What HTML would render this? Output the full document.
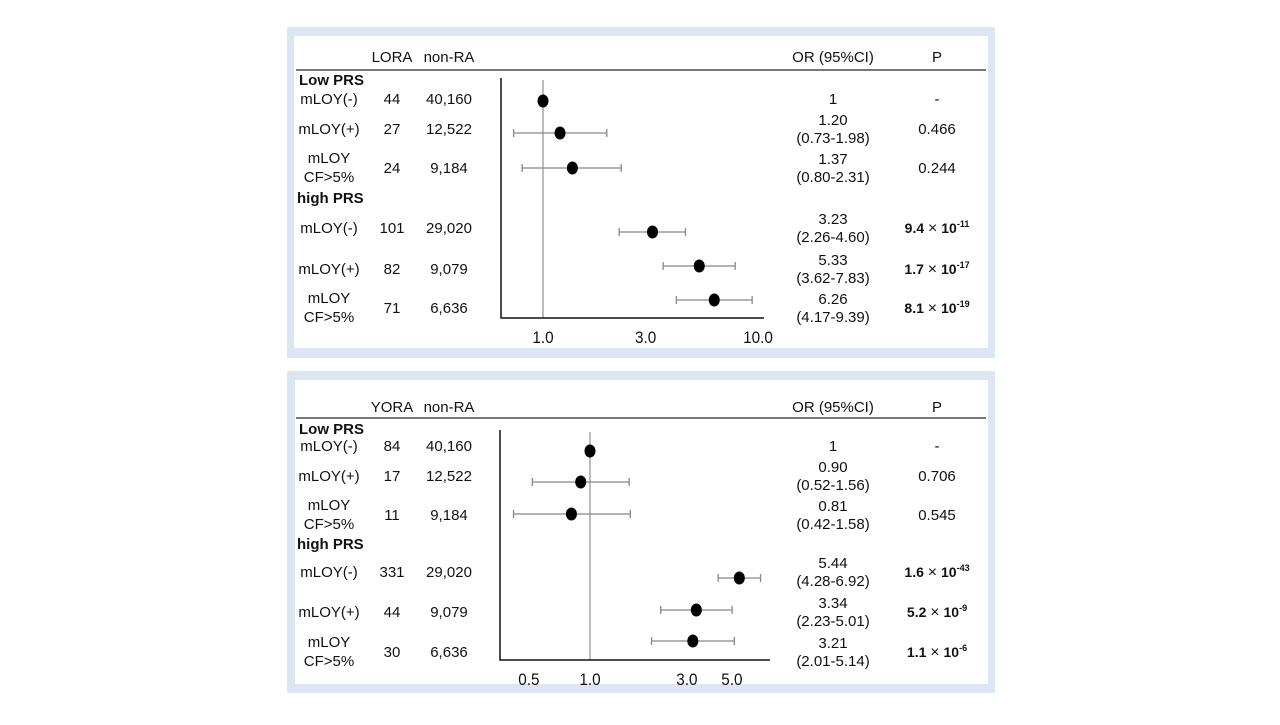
<!DOCTYPE html>
<html><head><meta charset="utf-8"><style>
body{margin:0;width:1280px;height:720px;background:#fff;font-family:"Liberation Sans",sans-serif;overflow:hidden}
svg text{font-family:"Liberation Sans",sans-serif;fill:#111}
</style></head><body>
<svg width="1280" height="720">
<rect x="287" y="27" width="708" height="331" fill="#dce6f2"/>
<rect x="294" y="36" width="694" height="312" fill="#fff"/>
<rect x="287" y="371" width="708" height="322" fill="#dce6f2"/>
<rect x="295" y="380" width="693" height="304" fill="#fff"/>
<g id="c1"></g>
<g id="c2"></g>
</svg>
<script>
const labels1=["mLOY(-)","mLOY(+)","mLOY|CF>5%","mLOY(-)","mLOY(+)","mLOY|CF>5%"];
const cases1=["44","27","24","101","82","71"];
const ctrl1=["40,160","12,522","9,184","29,020","9,079","6,636"];
const or1=[1,1.20,1.37,3.23,5.33,6.26];
const lo1=[null,0.73,0.80,2.26,3.62,4.17];
const hi1=[null,1.98,2.31,4.60,7.83,9.39];
const pm1=["-","0.466","0.244","9.4","1.7","8.1"];
const pe1=[null,null,null,"-11","-17","-19"];
const ticks1=[1,3,10];const tickLab1=["1.0","3.0","10.0"];

const cases2=["84","17","11","331","44","30"];
const or2=[1,0.90,0.81,5.44,3.34,3.21];
const lo2=[null,0.52,0.42,4.28,2.23,2.01];
const hi2=[null,1.56,1.58,6.92,5.01,5.14];
const pm2=["-","0.706","0.545","1.6","5.2","1.1"];
const pe2=[null,null,null,"-43","-9","-6"];
const ticks2=[0.5,1,3,5];const tickLab2=["0.5","1.0","3.0","5.0"];

const NS="http://www.w3.org/2000/svg";
const FS=15;
function mk(g,t,a,txt){const e=document.createElementNS(NS,t);for(const k in a)e.setAttribute(k,a[k]);if(txt!=null)e.textContent=txt;g.appendChild(e);return e;}
function draw(id,cfg){
 const g=document.getElementById(id);
 const X=v=>cfg.x1+Math.log10(v)*cfg.k;
 let e;
 e=mk(g,"text",{x:392,y:cfg.hy,"text-anchor":"middle","font-size":FS},cfg.caseHead);
 
 e=mk(g,"text",{x:449,y:cfg.hy,"text-anchor":"middle","font-size":FS},"non-RA");
 
 e=mk(g,"text",{x:833,y:cfg.hy,"text-anchor":"middle","font-size":FS},"OR (95%CI)");
 
 e=mk(g,"text",{x:937,y:cfg.hy,"text-anchor":"middle","font-size":FS},"P");
 
 e=mk(g,"line",{x1:296,x2:986,y1:cfg.hl,y2:cfg.hl,stroke:"#777","stroke-width":2});
 
 e=mk(g,"text",{x:299,y:cfg.g1,"font-size":FS,"font-weight":"bold"},"Low PRS");
 
 e=mk(g,"text",{x:297,y:cfg.g2,"font-size":FS,"font-weight":"bold"},"high PRS");
 
 e=mk(g,"line",{x1:X(1),x2:X(1),y1:cfg.ay0,y2:cfg.ay1,stroke:"#999","stroke-width":1.3});
 
 e=mk(g,"path",{d:`M${cfg.ax0} ${cfg.ay0-2}V${cfg.ay1}H${cfg.ax1}`,fill:"none",stroke:"#111","stroke-width":1.5});
 
 cfg.ticks.forEach((t,i)=>{
  e=mk(g,"text",{x:X(t),y:cfg.ay1+25,"text-anchor":"middle","font-size":17,"transform":`translate(${X(t)},0) scale(0.9,1) translate(${-X(t)},0)`},cfg.tickLab[i]);
  
 });
 cfg.rows.forEach((y,i)=>{
  const lab=labels1[i];
  if(lab.includes("|")){const p=lab.split("|");
   e=mk(g,"text",{x:329,y:y-5,"text-anchor":"middle","font-size":FS},p[0]);
   
   e=mk(g,"text",{x:329,y:y+14,"text-anchor":"middle","font-size":FS},p[1]);
   
  } else {
   e=mk(g,"text",{x:329,y:y+5,"text-anchor":"middle","font-size":FS},lab);
   
  }
  e=mk(g,"text",{x:392,y:y+5,"text-anchor":"middle","font-size":FS},cfg.cases[i]);
  
  e=mk(g,"text",{x:449,y:y+5,"text-anchor":"middle","font-size":FS},ctrl1[i]);
  
  const py=y+cfg.dy[i];
  if(cfg.lo[i]!=null){
   const a=X(cfg.lo[i]),b=X(cfg.hi[i]);
   e=mk(g,"path",{d:`M${a} ${py}H${b}M${a} ${py-4}v8M${b} ${py-4}v8`,stroke:"#888","stroke-width":1.3,fill:"none"});
   
   e=mk(g,"text",{x:833,y:y-4,"text-anchor":"middle","font-size":FS},cfg.or[i].toFixed(2));
   
   e=mk(g,"text",{x:833,y:y+14,"text-anchor":"middle","font-size":FS},"("+cfg.lo[i].toFixed(2)+"-"+cfg.hi[i].toFixed(2)+")");
   
  } else {
   e=mk(g,"text",{x:833,y:y+5,"text-anchor":"middle","font-size":FS},String(cfg.or[i]));
   
  }
  e=mk(g,"ellipse",{cx:X(cfg.or[i]),cy:py,rx:5.5,ry:6.5,fill:"#000"});
  
  const t=mk(g,"text",{x:937,y:y+5,"text-anchor":"middle","font-size":FS,"font-weight":cfg.pe[i]?"bold":"normal"});
  
  
  if(cfg.pe[i]){
   mk(t,"tspan",{"font-size":14},cfg.pm[i]+"\u00a0");mk(t,"tspan",{"font-weight":"normal","font-size":16},"×");
   mk(t,"tspan",{"font-size":14},"\u00a010");mk(t,"tspan",{dy:-6,"font-size":9},cfg.pe[i]);
  } else t.textContent=cfg.pm[i];
 });
}
draw("c1",{caseHead:"LORA",hy:62,hl:70,g1:85,g2:203,x1:543,k:215,ax0:501,ax1:764,ay0:80,ay1:318,
 rows:[99,129,168,228,269,308],dy:[2,4,0,4,-3,-8],cases:cases1,or:or1,lo:lo1,hi:hi1,pm:pm1,pe:pe1,ticks:ticks1,tickLab:tickLab1});
draw("c2",{caseHead:"YORA",hy:412,hl:418,g1:434,g2:549,x1:590,k:203,ax0:500,ax1:770,ay0:432,ay1:660,
 rows:[446,476,515,572,612,652],dy:[5,6,-1,6,-2,-11],cases:cases2,or:or2,lo:lo2,hi:hi2,pm:pm2,pe:pe2,ticks:ticks2,tickLab:tickLab2});
</script>
</body></html>
